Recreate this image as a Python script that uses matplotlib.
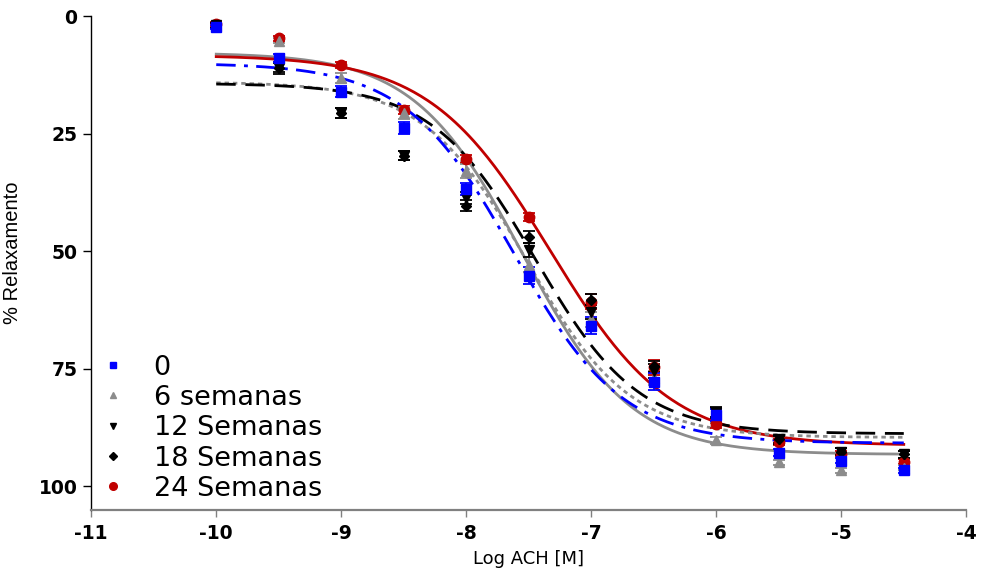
import numpy as np
import matplotlib.pyplot as plt
from matplotlib.lines import Line2D

plt.rcParams['font.family'] = ['DejaVu Sans']
plt.rcParams['axes.unicode_minus'] = False

# log [ACh] (M)
log_ach = [-10, -9.5, -9, -8.5, -8, -7.5, -7, -6.5, -6, -5.5, -5, -4.5]

# mean % relaxation per group
rel_0 = [2.3, 8.9, 16.1, 23.8, 36.8, 55.2, 65.8, 77.7, 84.8, 92.8, 94.5, 96.6]
rel_6 = [2.0, 5.2, 13.2, 20.6, 33.0, 52.9, 64.5, 77.0, 90.2, 94.9, 96.6, 96.0]
rel_12 = [2.0, 11.0, 20.6, 29.7, 38.7, 49.7, 63.0, 75.5, 84.3, 90.0, 92.6, 93.2]
rel_18 = [2.0, 11.0, 20.6, 29.7, 40.3, 47.0, 60.3, 74.5, 84.3, 90.0, 92.6, 93.2]
rel_24 = [1.7, 4.7, 10.4, 20.0, 30.4, 42.7, 60.7, 74.7, 86.8, 90.6, 93.0, 94.7]

# standard error of the mean
sem_0 = [0.5, 0.8, 1.2, 1.2, 1.3, 1.8, 1.8, 1.8, 1.2, 0.8, 0.6, 0.6]
sem_6 = [0.5, 0.6, 1.0, 1.2, 1.5, 1.6, 1.5, 1.5, 0.8, 0.6, 0.5, 0.5]
sem_12 = [0.5, 1.3, 1.0, 1.0, 1.2, 1.5, 1.5, 1.5, 1.2, 1.0, 0.8, 0.8]
sem_18 = [0.5, 1.0, 1.0, 1.0, 1.2, 1.2, 1.2, 1.2, 1.0, 0.8, 0.8, 0.8]
sem_24 = [0.5, 0.5, 0.6, 0.8, 0.8, 0.8, 1.6, 1.6, 0.8, 0.6, 0.6, 0.6]

# sigmoidal fit parameters: top, bottom, logEC50, hill slope
fit_0 = (10.0, 90.8, -7.62, 1.0)
fit_6 = (7.8, 93.2, -7.55, 1.0)
fit_12 = (14.3, 88.8, -7.45, 1.05)
fit_18 = (14.0, 89.6, -7.52, 1.05)
fit_24 = (8.3, 91.3, -7.33, 0.9)

labels = ['0', '6 semanas', '12 Semanas', '18 Semanas', '24 Semanas']


def sigmoid(x, top, bottom, logec50, hill):
    return top + (bottom - top) / (1 + 10 ** ((logec50 - x) * hill))


fig = plt.figure(figsize=(9.81, 5.73), dpi=100)
ax = fig.add_axes([0.093, 0.110, 0.892, 0.862])

xs = np.linspace(-10, -4.5, 300)
curves = [
    (fit_6, dict(color='#8c8c8c', lw=2.0, ls='-')),
    (fit_24, dict(color='#c00000', lw=2.0, ls='-')),
    (fit_18, dict(color='#8c8c8c', lw=2.0, ls=(0, (1.6, 1.4)))),
    (fit_12, dict(color='black', lw=2.0, ls=(0, (7, 3.5)))),
    (fit_0, dict(color='#0000ff', lw=2.0, ls=(0, (7, 3, 1.4, 3)))),
]
for p, style in curves:
    ax.plot(xs, sigmoid(xs, *p), zorder=2, **style)

groups = [
    (rel_24, sem_24, 'o', '#c00000', 7.5),
    (rel_6, sem_6, '^', '#8c8c8c', 7),
    (rel_12, sem_12, 'v', 'black', 7),
    (rel_18, sem_18, 'D', 'black', 5.5),
    (rel_0, sem_0, 's', '#0000ff', 6.5),
]
for vals, err, m, c, ms in groups:
    ax.errorbar(log_ach, vals, yerr=err, fmt=m, color=c, ms=ms, mec=c,
                elinewidth=1.3, capsize=4, capthick=1.3, zorder=3)

ax.set_xlim(-11, -4)
ax.set_ylim(105, 0)
ax.set_xticks(range(-11, -3))
ax.set_yticks([0, 25, 50, 75, 100])

for s in ['top', 'right']:
    ax.spines[s].set_visible(False)
ax.spines['left'].set_color('black')
ax.spines['left'].set_linewidth(1.0)
ax.spines['bottom'].set_color('#808080')
ax.spines['bottom'].set_linewidth(1.6)

ax.tick_params(axis='y', direction='out', length=6, width=1.0, pad=4,
               labelsize=13.5)
ax.tick_params(axis='x', direction='out', length=5, width=1.0, color='#808080',
               pad=5, labelsize=13.5)
for t in ax.get_xticklabels() + ax.get_yticklabels():
    t.set_fontweight('bold')

ax.set_xlabel('Log ACH [M]', fontsize=13, labelpad=5)
ax.set_ylabel('% Relaxamento', fontsize=14.5, fontweight='medium',
              family=['Liberation Sans Narrow', 'Liberation Sans'])
ax.yaxis.set_label_coords(-0.079, 0.52)

handles = [
    Line2D([], [], ls='none', marker='s', color='#0000ff', ms=5),
    Line2D([], [], ls='none', marker='^', color='#8c8c8c', ms=5),
    Line2D([], [], ls='none', marker='v', color='black', ms=5),
    Line2D([], [], ls='none', marker='D', color='black', ms=4.5),
    Line2D([], [], ls='none', marker='o', color='#c00000', ms=5.5),
]
ax.legend(handles, labels, loc='lower left', bbox_to_anchor=(0.0, 0.0),
          frameon=False, fontsize=19.5, handlelength=1.0, handletextpad=1.0,
          labelspacing=0.16, borderpad=0.1, borderaxespad=0.2)

fig.savefig('out.png', dpi=100)
